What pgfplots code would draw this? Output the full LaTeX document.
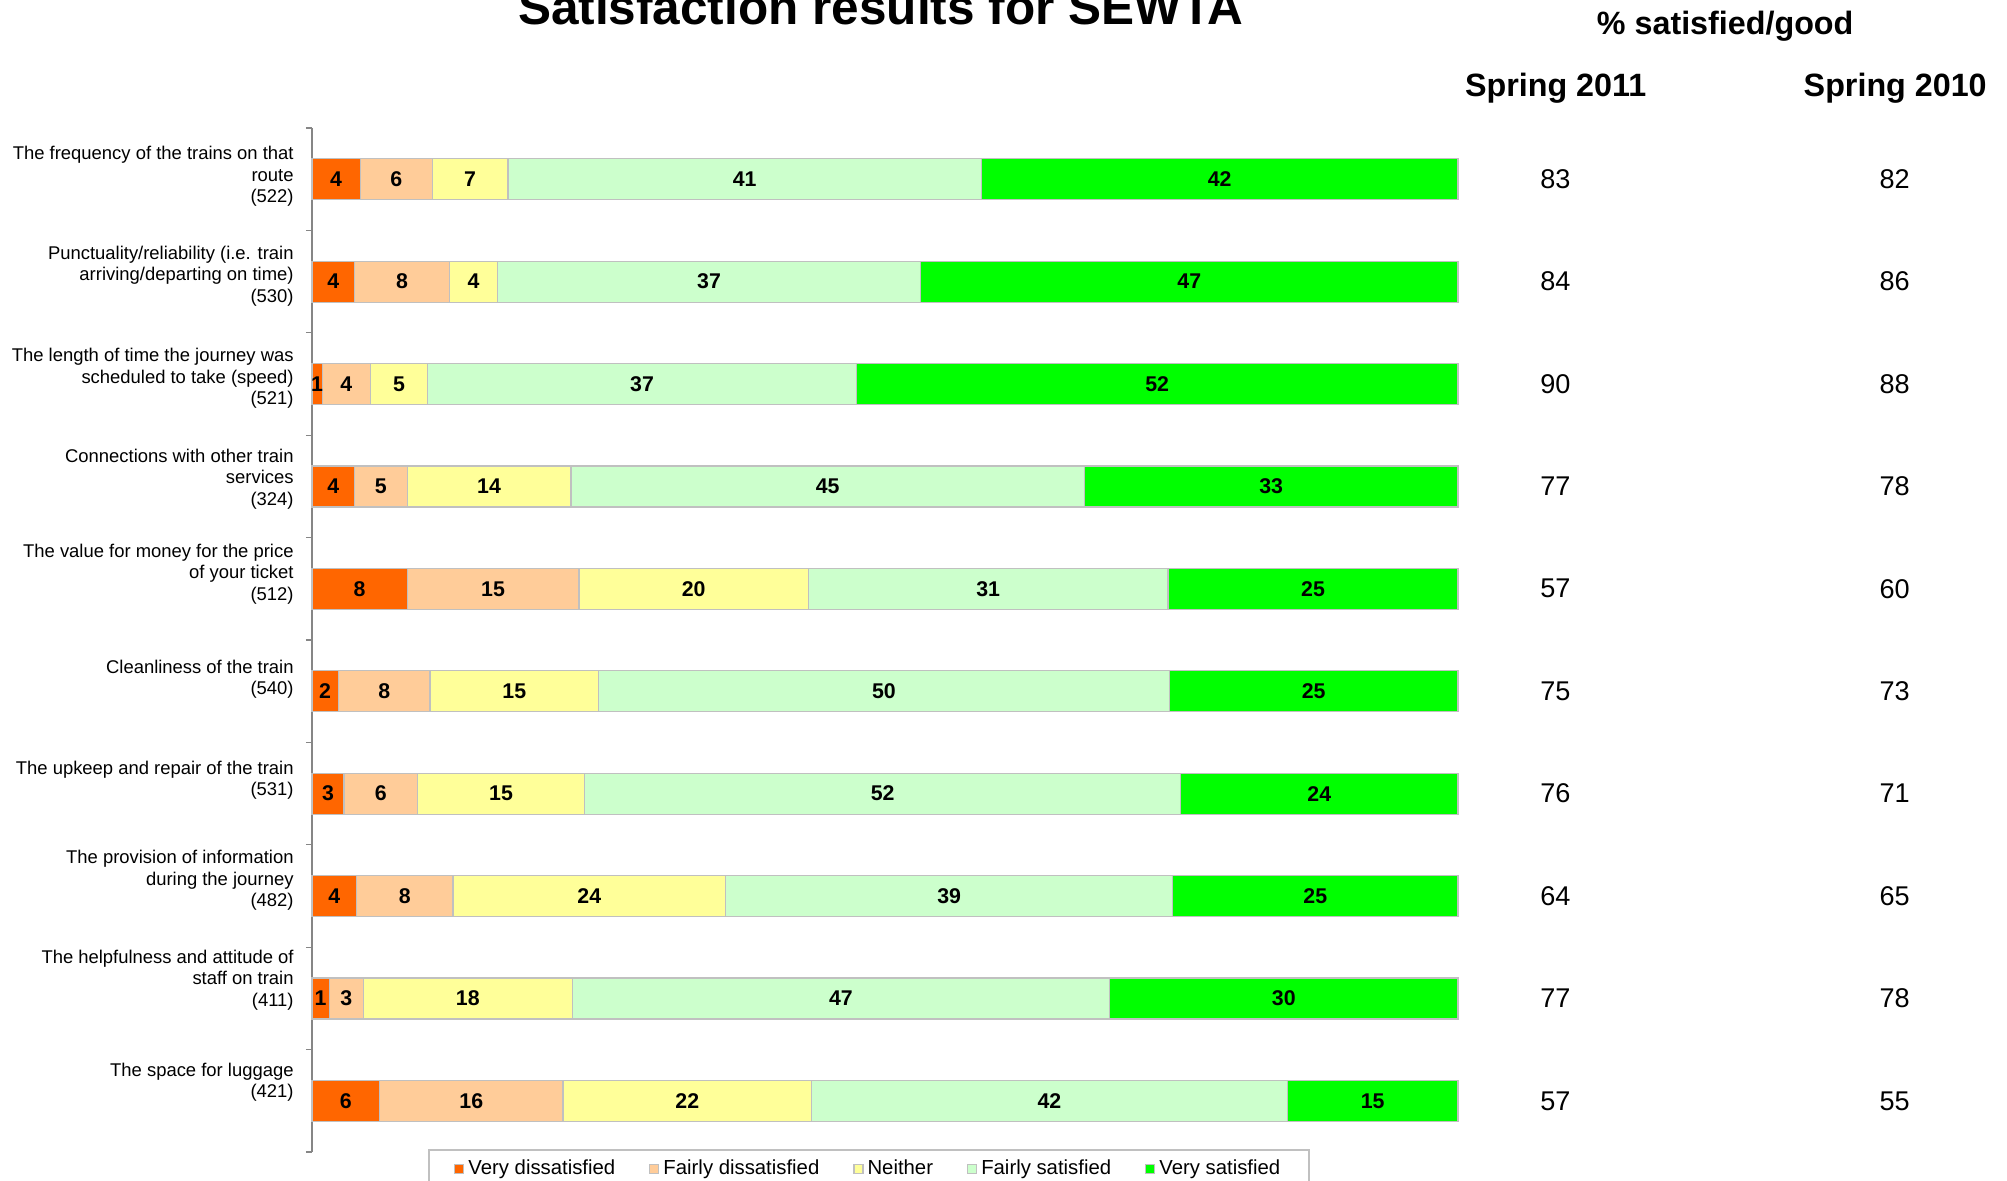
\documentclass[border=0pt]{standalone}
\usepackage{pgfplots}
\pgfplotsset{compat=1.18}
\usepackage{pgfplotstable}
\usepackage{fontspec}
\setmainfont{Liberation Sans}

\definecolor{vdC}{HTML}{FF6600}
\definecolor{fdC}{HTML}{FFCC99}
\definecolor{neC}{HTML}{FFFF99}
\definecolor{fsC}{HTML}{CCFFCC}
\definecolor{vsC}{HTML}{00FF00}
\definecolor{barB}{RGB}{192,192,192}
\definecolor{axC}{RGB}{134,134,134}

% widths and printed labels
\pgfplotstableread{
row vd vdl fd fdl ne nel fs fsl vs vsl s11 s10
1 4.2 4 6.3 6 6.6 7 41.3 41 41.6 42 83 82
2 3.7 4 8.3 8 4.2 4 36.9 37 46.9 47 84 86
3 0.9 1 4.2 4 5.0 5 37.4 37 52.5 52 90 88
4 3.7 4 4.6 5 14.3 14 44.8 45 32.6 33 77 78
5 8.3 8 15.0 15 20.0 20 31.4 31 25.3 25 57 60
6 2.3 2 8.0 8 14.7 15 49.8 50 25.2 25 75 73
7 2.8 3 6.4 6 14.6 15 52.0 52 24.2 24 76 71
8 3.9 4 8.4 8 23.8 24 39.0 39 24.9 25 64 65
9 1.5 1 3.0 3 18.2 18 46.9 47 30.4 30 77 78
10 5.9 6 16.0 16 21.7 22 41.5 42 14.9 15 57 55
}\datatable

\begin{document}
\begin{tikzpicture}
\begin{axis}[
  at={(0,0)}, anchor=south west,
  scale only axis, width=573bp, height=512bp,
  xbar stacked, bar width=20.5bp,
  xmin=0, xmax=100,
  ymin=0.5, ymax=10.5, y dir=reverse,
  axis x line=none,
  axis y line*=left,
  axis line style={draw=axC, line width=0.6bp},
  ytick={0.971,1.945,2.945,3.926,4.857,5.883,6.871,7.846,8.820,9.820},
  yticklabels={
    {The frequency of the trains on that\\route\\(522)},
    {Punctuality/reliability (i.e. train\\arriving/departing on time)\\(530)},
    {The length of time the journey was\\scheduled to take (speed)\\(521)},
    {Connections with other train\\services\\(324)},
    {The value for money for the price\\of your ticket\\(512)},
    {Cleanliness of the train\\(540)},
    {The upkeep and repair of the train\\(531)},
    {The provision of information\\during the journey\\(482)},
    {The helpfulness and attitude of\\staff on train\\(411)},
    {The space for luggage\\(421)}},
  major tick length=0pt,
  minor ytick={0.5,1.5,...,10.5},
  minor tick length=3bp,
  tick align=outside,
  minor tick style={draw=axC, line width=0.6bp},
  yticklabel style={font=\fontsize{9.25}{10.8}\selectfont, align=right, anchor=east,
    inner sep=0pt, xshift=-9bp},
  clip=false,
  nodes near coords,
  point meta=explicit symbolic,
  every node near coord/.append style={font=\fontsize{10.7}{12}\selectfont\bfseries,
    anchor=center, text=black},
  legend columns=5,
  legend image code/.code={\path[#1] (0bp,-2.25bp) rectangle (4.5bp,2.25bp);},
  legend style={at={(0.10166,0)}, anchor=north west, yshift=1.5bp,
    draw=barB, line width=0.75bp, inner xsep=12.5bp, inner ysep=4bp,
    font=\fontsize{10.2}{12}\selectfont,
    nodes={inner xsep=2bp, inner ysep=1bp},
    /tikz/every even column/.append style={column sep=15bp}},
]
\addplot[fill=vdC, draw=barB, line width=0.6bp] table[x=vd, y=row, meta=vdl]{\datatable};
\addlegendentry{Very dissatisfied}
\addplot[fill=fdC, draw=barB, line width=0.6bp] table[x=fd, y=row, meta=fdl]{\datatable};
\addlegendentry{Fairly dissatisfied}
\addplot[fill=neC, draw=barB, line width=0.6bp] table[x=ne, y=row, meta=nel]{\datatable};
\addlegendentry{Neither}
\addplot[fill=fsC, draw=barB, line width=0.6bp] table[x=fs, y=row, meta=fsl]{\datatable};
\addlegendentry{Fairly satisfied}
\addplot[fill=vsC, draw=barB, line width=0.6bp] table[x=vs, y=row, meta=vsl]{\datatable};
\addlegendentry{Very satisfied}
\end{axis}

\begin{axis}[
  at={(0,0)}, anchor=south west,
  scale only axis, width=573bp, height=512bp,
  xmin=0, xmax=100, ymin=0.5, ymax=10.5, y dir=reverse,
  hide axis, clip=false,
  nodes near coords, point meta=explicit symbolic,
  every node near coord/.append style={font=\fontsize{13.6}{16}\selectfont, anchor=center, text=black},
]
\addplot[draw=none, mark=none] table[x expr=108.5, y=row, meta=s11]{\datatable};
\addplot[draw=none, mark=none] table[x expr=138.1, y=row, meta=s10]{\datatable};
\end{axis}

\node[font=\fontsize{24.85}{28}\selectfont\bfseries, anchor=base] at (284.4bp,563.5bp) {Satisfaction results for SEWTA};
\node[font=\fontsize{16.2}{19}\selectfont\bfseries, anchor=base] at (706.6bp,558.8bp) {\% satisfied/good};
\node[font=\fontsize{16.2}{19}\selectfont\bfseries, anchor=base] at (621.8bp,527.7bp) {Spring 2011};
\node[font=\fontsize{16.2}{19}\selectfont\bfseries, anchor=base] at (791.6bp,527.7bp) {Spring 2010};

\pgfresetboundingbox
\clip (-156bp,-14.5bp) rectangle (847.5bp,576bp);
\useasboundingbox (-156bp,-14.5bp) rectangle (847.5bp,576bp);
\end{tikzpicture}
\end{document}
